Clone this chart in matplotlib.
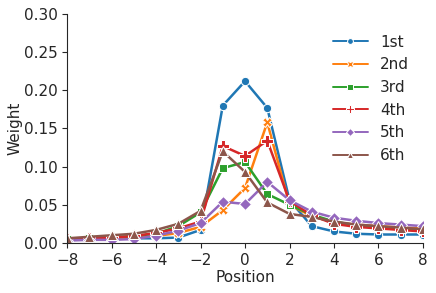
import numpy as np
import matplotlib
matplotlib.use('Agg')
import matplotlib.pyplot as plt
import seaborn as sns

position = list(range(-8, 9))

w_1st = [0.004, 0.005, 0.005, 0.006, 0.006, 0.007, 0.017, 0.180, 0.212, 0.177, 0.056,
         0.022, 0.015, 0.012, 0.011, 0.011, 0.011]
w_2nd = [0.004, 0.005, 0.006, 0.007, 0.009, 0.013, 0.021, 0.043, 0.072, 0.158, 0.050, 0.035,
         0.027, 0.024, 0.022, 0.020, 0.019]
w_3rd = [0.005, 0.006, 0.007, 0.009, 0.012, 0.022, 0.040, 0.098, 0.106, 0.064, 0.050, 0.037,
         0.028, 0.023, 0.020, 0.018, 0.016]
w_4th = [0.005, 0.006, 0.007, 0.009, 0.013, 0.019, 0.028, 0.127, 0.114, 0.134, 0.055, 0.036,
         0.025, 0.021, 0.019, 0.017, 0.015]
w_5th = [0.003, 0.004, 0.004, 0.005, 0.0095, 0.016, 0.026, 0.054, 0.051, 0.080, 0.056, 0.041,
         0.033, 0.029, 0.026, 0.024, 0.022]
w_6th = [0.006, 0.008, 0.010, 0.012, 0.017, 0.025, 0.042, 0.120, 0.093, 0.053, 0.038, 0.034,
         0.028, 0.024, 0.022, 0.020, 0.018]

labels = ['1st', '2nd', '3rd', '4th', '5th', '6th']
series = [w_1st, w_2nd, w_3rd, w_4th, w_5th, w_6th]
markers = ['o', 'X', 's', 'P', 'D', '^']
msizes = [6, 7, 6, 8, 6, 7]

sns.set_style('ticks')
plt.rcParams['font.family'] = ['DejaVu Sans']
plt.rcParams['font.size'] = 11

colors = sns.color_palette('tab10')

fig = plt.figure(figsize=(4.36, 2.93), dpi=100)
ax = fig.add_axes([0.154, 0.171, 0.816, 0.781])

for i in range(len(series)):
    ax.plot(position, series[i], color=colors[i], marker=markers[i], markersize=msizes[i],
            markeredgecolor='white', markeredgewidth=0.75, linewidth=1.8, label=labels[i])

ax.set_xlim(-8, 8)
ax.set_ylim(0, 0.30)
ax.set_xticks(range(-8, 9, 2))
ax.set_yticks(np.arange(0, 0.31, 0.05))
ax.set_xlabel('Position', fontsize=11, labelpad=2)
ax.set_ylabel('Weight', fontsize=11, labelpad=1)
ax.tick_params(labelsize=11)
sns.despine(ax=ax)

leg = ax.legend(frameon=False, loc='upper right', bbox_to_anchor=(1.0, 0.97),
                fontsize=11, markerscale=0.7, handlelength=2.3)
for line in leg.get_lines():
    line.set_linewidth(1.4)

fig.savefig('out.png', dpi=100)
